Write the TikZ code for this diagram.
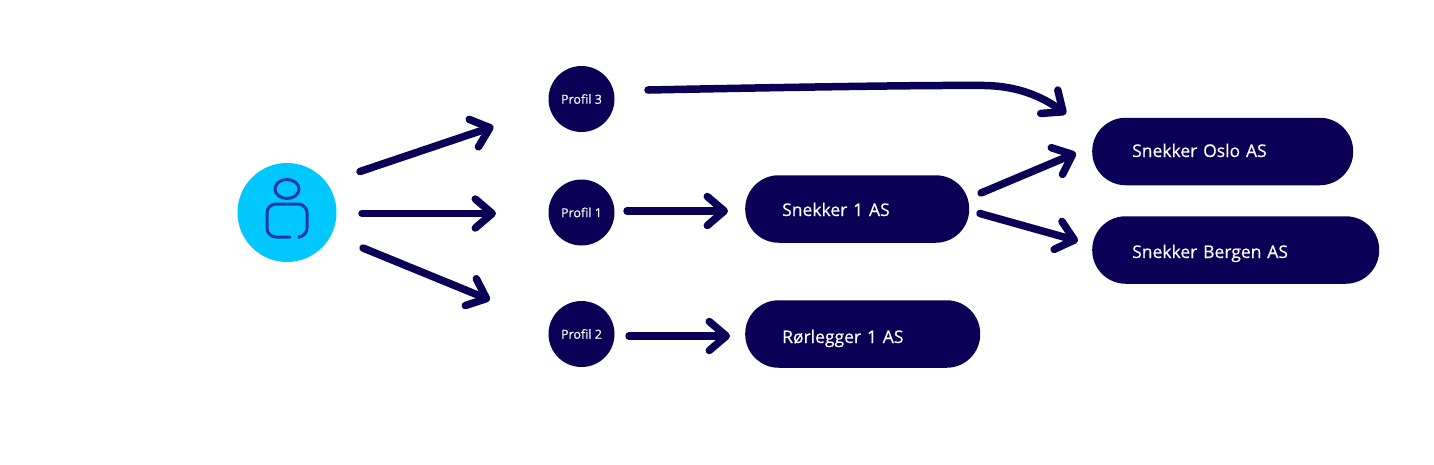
\documentclass[tikz,border=0pt]{standalone}
\usepackage{fontspec}
\setmainfont[FakeBold=0.35]{Open Sans}
\usetikzlibrary{arrows.meta}
\definecolor{navy}{HTML}{0A0055}
\definecolor{sky}{HTML}{00C8FF}
\definecolor{iconblue}{HTML}{1F3AA8}
\tikzset{
  pill/.style={fill=navy,text=white,rounded corners=33.5pt,minimum height=67.5pt,inner ysep=0pt,inner xsep=37pt,anchor=west,align=left,text depth=0pt,font=\fontsize{17.5}{20}\selectfont},
  profil/.style={circle,fill=navy,text=white,minimum size=66pt,inner sep=0pt,font=\fontsize{12.5}{14}\selectfont},
  link/.style={draw=navy,line width=7.5pt,line cap=round,line join=round,-{Straight Barb[length=17pt,width=29pt,line cap=round,line join=round]}},
  icon/.style={draw=iconblue,line width=3pt,line cap=round}
}
\begin{document}
\begin{tikzpicture}[x=1pt,y=-1pt]
\useasboundingbox (0,0) rectangle (1434,464);
\fill[white] (0,0) rectangle (1434,464);
\node[circle,fill=sky,minimum size=99pt,inner sep=0pt] (user) at (287,212.5) {};
\draw[icon] (287,189) ellipse [x radius=12pt,y radius=9.5pt];
\draw[icon,rounded corners=9pt] (290,237) -- (267,237) -- (267,204) -- (307,204) -- (307,237) -- (300,237);
\node[profil] (p3) at (581.5,99) {Profil 3};
\node[profil] (p1) at (581.5,212.5) {Profil 1};
\node[profil] (p2) at (581.5,334) {Profil 2};
\node[pill,minimum width=224pt,text width=150pt,text height=14pt] (s1) at (745,209) {Snekker 1 AS};
\node[pill,minimum width=235pt,text width=161pt,text height=18pt] (r1) at (745,334) {Rørlegger 1 AS};
\node[pill,minimum width=261pt,inner xsep=40pt,text width=181pt,text height=11pt] (so) at (1092,151.5) {Snekker Oslo AS};
\node[pill,minimum width=287pt,inner xsep=40pt,text width=207pt,text height=16pt] (sb) at (1092,250) {Snekker Bergen AS};
\coordinate (a1s) at (360,171.5); \coordinate (a1e) at (493.5,126.5);
\coordinate (a2s) at (362,213.5); \coordinate (a2e) at (496,213.5);
\coordinate (a3s) at (363,248); \coordinate (a3e) at (490,300);
\coordinate (b3s) at (648,90); \coordinate (b3e) at (1066,114);
\coordinate (b1s) at (627,211); \coordinate (b1e) at (728,211);
\coordinate (b2s) at (629,336); \coordinate (b2e) at (730,336);
\coordinate (c1s) at (981,193); \coordinate (c1e) at (1076,153);
\coordinate (c2s) at (980,213.5); \coordinate (c2e) at (1078,241);
\draw[link] (a1s) -- (a1e);
\draw[link] (a2s) -- (a2e);
\draw[link] (a3s) -- (a3e);
\draw[link] (b1s) -- (b1e);
\draw[link] (b2s) -- (b2e);
\draw[link] (c1s) -- (c1e);
\draw[link] (c2s) -- (c2e);
\draw[link] (b3s) .. controls (800,87) and (930,85) .. (985,85.5) .. controls (1015,86) and (1040,95) .. (b3e);
\end{tikzpicture}
\end{document}
